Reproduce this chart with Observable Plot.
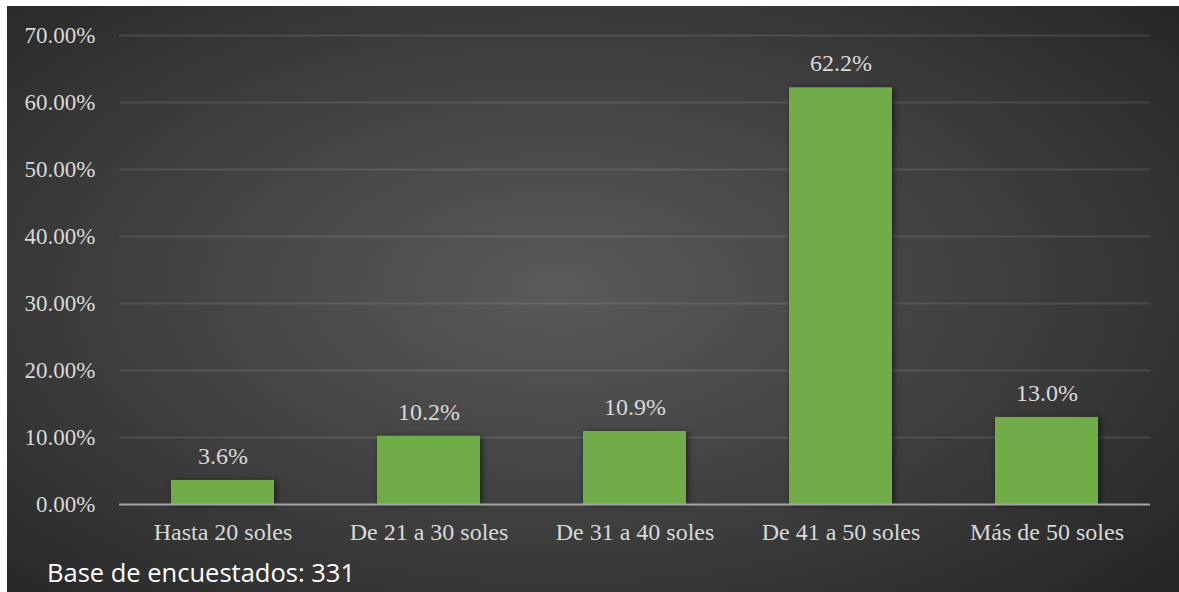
<!DOCTYPE html>
<html>
<head>
<meta charset="utf-8">
<script src="https://cdn.jsdelivr.net/npm/d3@7"></script>
<script src="https://cdn.jsdelivr.net/npm/@observablehq/plot@0.6"></script>
<style>
  html, body { margin: 0; padding: 0; background: #ffffff; }
  #frame {
    position: absolute; left: 7px; top: 6px; width: 1172px; height: 586px;
    background: radial-gradient(ellipse 70% 75% at 47% 48%, #5a5a5a 0%, #3e3e3e 55%, #262626 100%);
    overflow: hidden;
  }
  #chart { position: absolute; left: 0; top: 0; }
  #caption {
    position: absolute; left: 40px; top: 551px;
    font-family: "Open Sans", "Liberation Sans", sans-serif; font-size: 25.5px; color: #ffffff;
    line-height: 1.2;
  }
  svg g[aria-label="bar"] rect { filter: drop-shadow(2px 1px 3px rgba(0,0,0,0.55)); }
  svg g[aria-label="x-axis tick label"] text { font-size: 24px; }
</style>
</head>
<body>
<div id="frame">
  <div id="chart"></div>
  <div id="caption">Base de encuestados: 331</div>
</div>
<script>
const categories = ["Hasta 20 soles", "De 21 a 30 soles", "De 31 a 40 soles", "De 41 a 50 soles", "Más de 50 soles"];
const values = [3.6, 10.2, 10.9, 62.2, 13.0];
const yTicks = [0, 10, 20, 30, 40, 50, 60, 70];

const data = categories.map((c, i) => ({category: c, value: values[i]}));

const chart = Plot.plot({
  width: 1172,
  height: 560,
  marginLeft: 112,
  marginRight: 29,
  marginTop: 29,
  marginBottom: 62,
  style: {background: "transparent", fontFamily: "'Liberation Serif', 'Times New Roman', serif", fontSize: "23px", color: "#d9d9d9"},
  x: {domain: categories, paddingInner: 0.5, paddingOuter: 0.25, label: null, tickSize: 0, tickPadding: 18},
  y: {domain: [0, 70], ticks: yTicks, tickFormat: d => d.toFixed(2) + "%", label: null, tickSize: 0, tickPadding: 24},
  marks: [
    Plot.gridY(yTicks.filter(d => d > 0), {stroke: "#ffffff", strokeOpacity: 0.1, strokeWidth: 2}),
    Plot.barY(data, {x: "category", y: "value", fill: "#70ad47"}),
    Plot.ruleY([0], {stroke: "#a6a6a6", strokeWidth: 2}),
    Plot.text(data, {x: "category", y: "value", text: d => d.value.toFixed(1) + "%", dy: -24, fill: "#d9d9d9", fontSize: 24})
  ]
});
document.getElementById("chart").appendChild(chart);
</script>
</body>
</html>
